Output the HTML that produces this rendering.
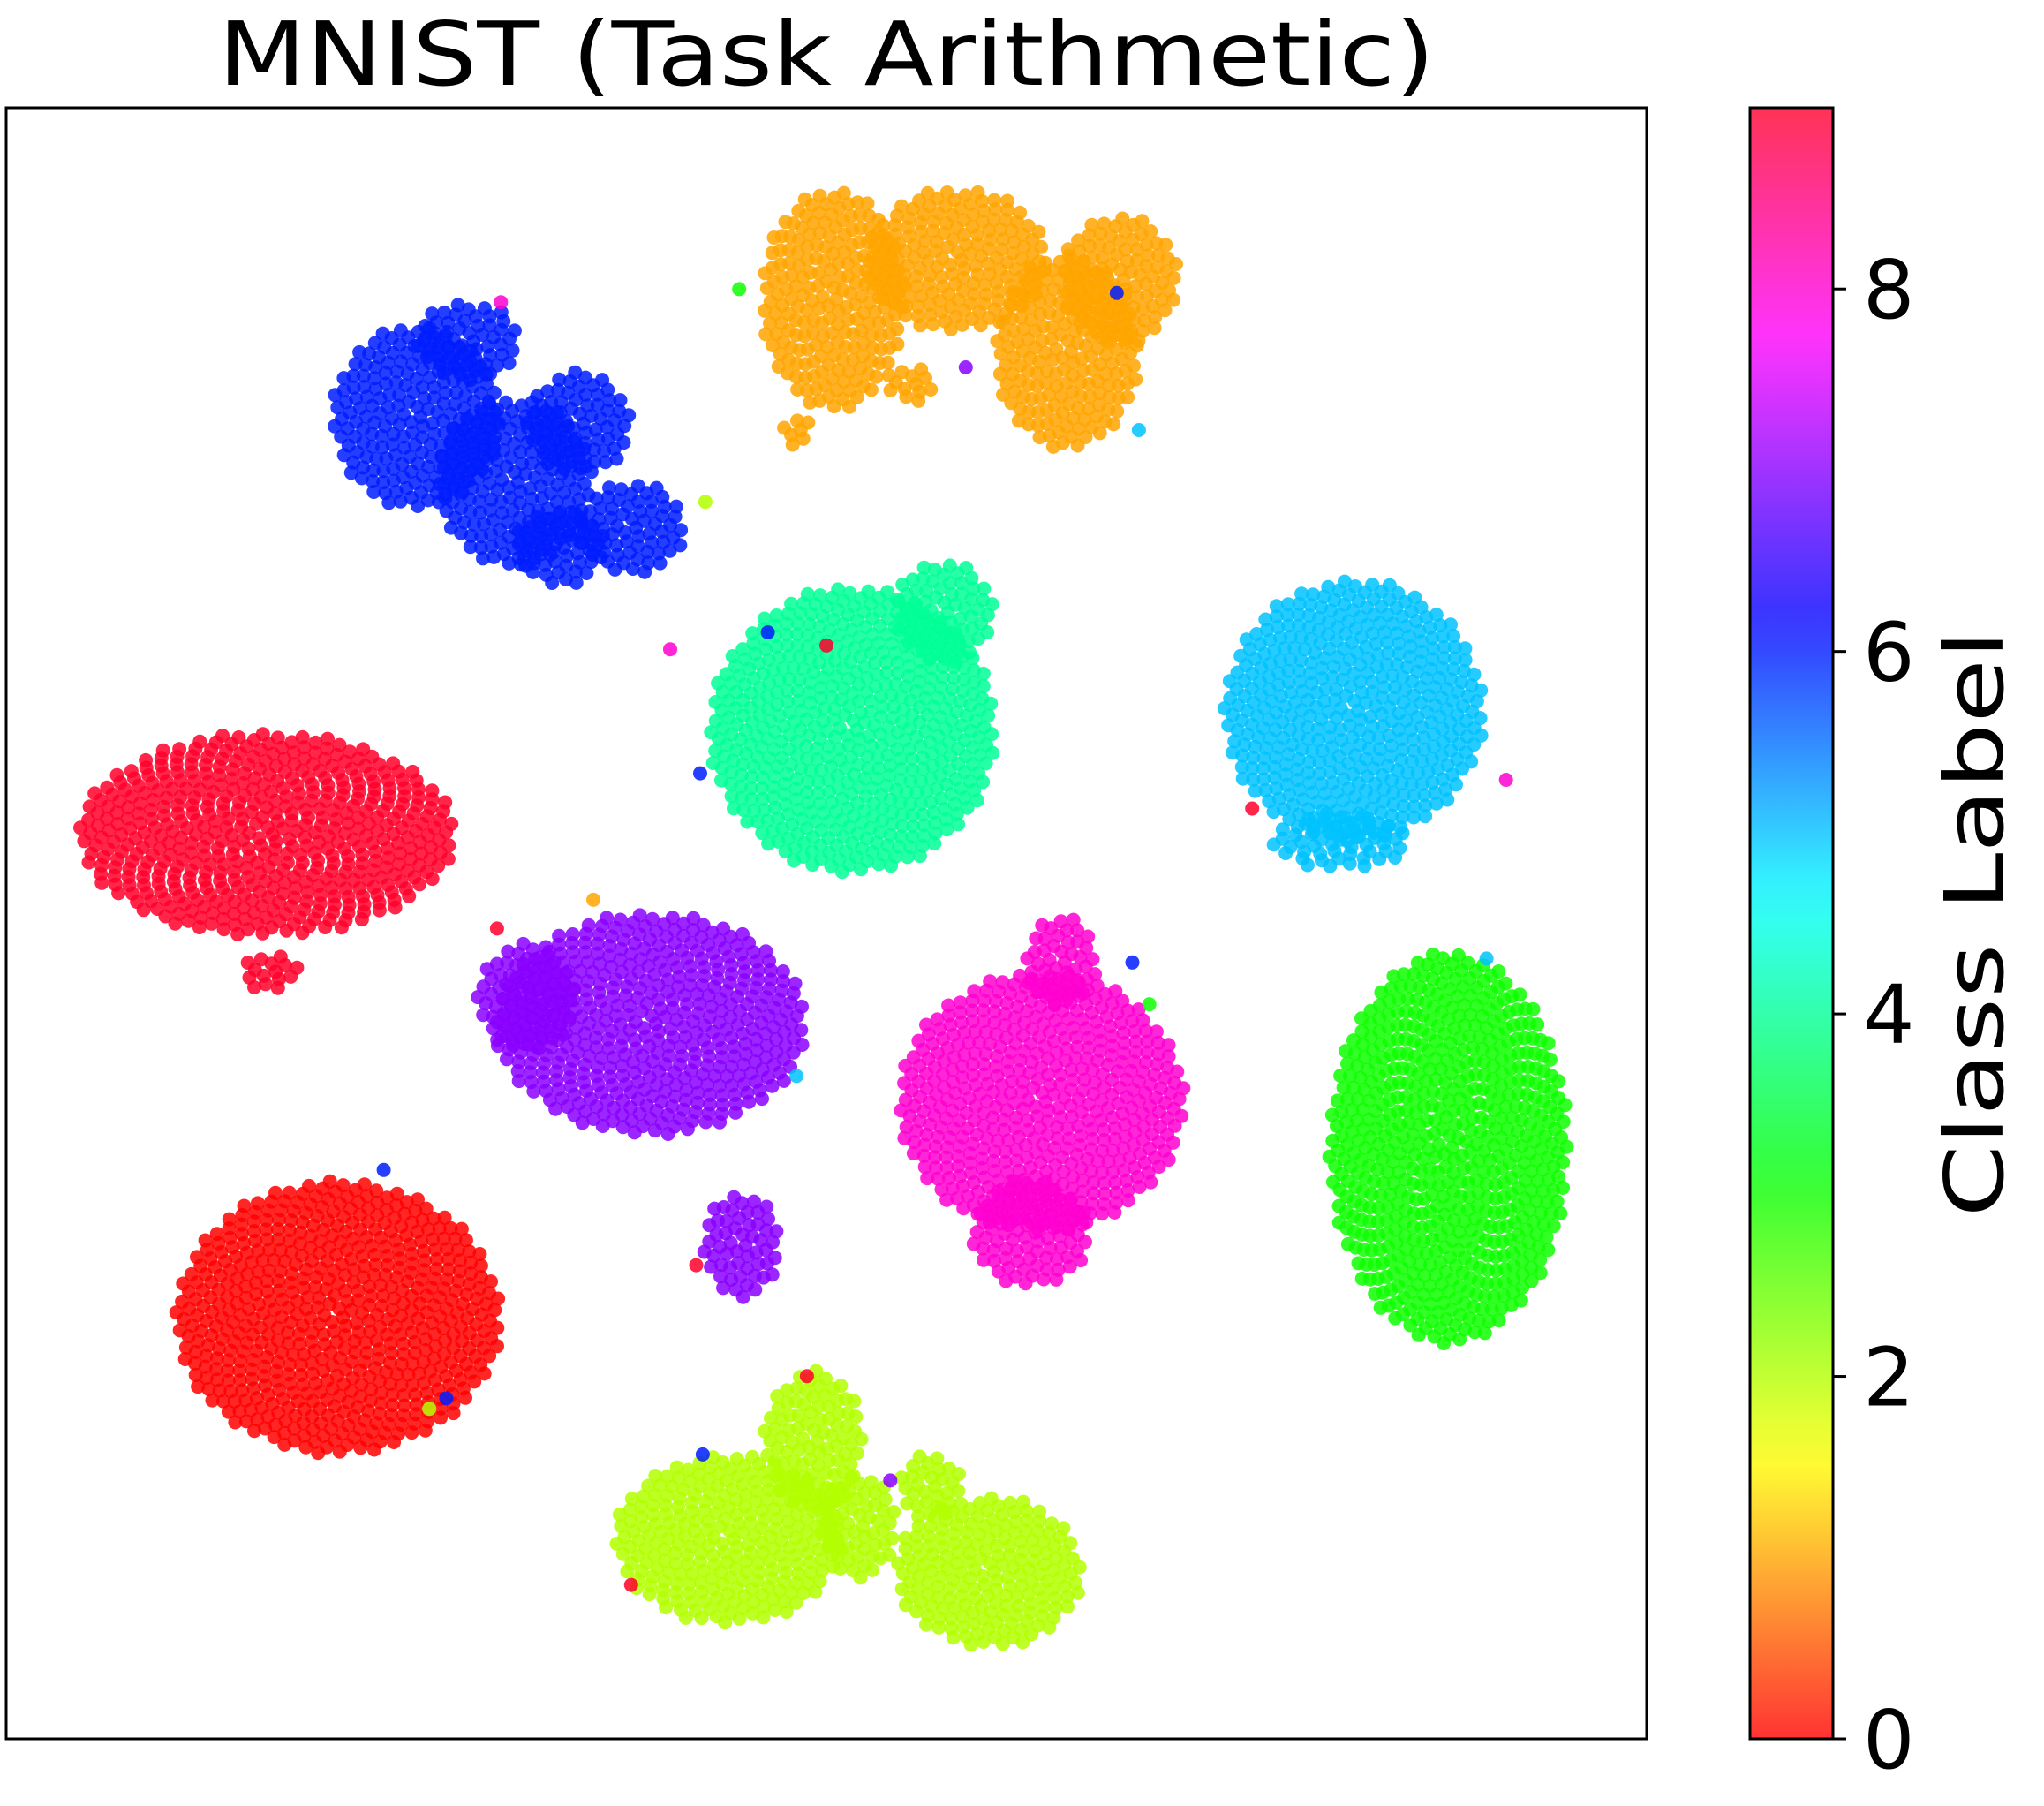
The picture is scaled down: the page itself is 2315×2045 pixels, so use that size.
<!DOCTYPE html>
<html><head><meta charset="utf-8"><style>
html,body{margin:0;padding:0;background:#fff;width:2315px;height:2045px;overflow:hidden}
svg{display:block;font-family:"DejaVu Sans","Liberation Sans",sans-serif}
</style></head><body>
<svg id="chart" width="2315" height="2045" viewBox="0 0 2315 2045" xmlns="http://www.w3.org/2000/svg">
<defs><linearGradient id="cbgrad" x1="0" y1="1" x2="0" y2="0"></linearGradient></defs>
<text x="936" y="96" font-size="100" text-anchor="middle" textLength="1378" lengthAdjust="spacingAndGlyphs">MNIST (Task Arithmetic)</text>
<g id="points"></g>
<rect x="7" y="122" width="1858" height="1847" fill="none" stroke="#000" stroke-width="3"/>
<rect x="1982" y="122" width="94" height="1847" fill="url(#cbgrad)" stroke="#000" stroke-width="3"/>
<g id="cbticks"></g>
<text transform="translate(2268,1046) rotate(-90)" font-size="92" text-anchor="middle" textLength="665" lengthAdjust="spacingAndGlyphs">Class Label</text>
</svg>
<script>
// Cluster blobs in display coordinates
const blobClass = [1,1,1,1,1,1, 6,6,6,6,6,6, 4,4, 5,5, 9,9, 7,7,7, 8,8,8, 3, 0, 2,2,2,2,2];
const blobCx = [640,735,820,860,612,700, 320,395,445,485,360,430, 655,725, 1040,1030, 205,208, 500,405,570, 800,815,792, 1113, 260, 560,625,760,715,660];
const blobCy = [230,200,270,215,330,295, 320,370,325,405,262,420, 560,470, 545,645, 640,745, 785,765,955, 845,738,945, 880, 1010, 1180,1105,1205,1140,1170];
const blobRx = [55,70,55,45,12,20, 65,60,40,42,40,35, 110,38, 100,52, 145,22, 120,38,30, 110,28,45, 92, 125, 88,38,72,25,30];
const blobRy = [85,55,75,50,12,14, 70,65,40,35,30,30, 110,40, 100,22, 78,15, 85,42,40, 100,35,42, 150, 105, 65,55,58,25,40];
// Stray points
const strayClass = [3,6,6,8,9,6,2,8,6,3,9,5,8,5,9,6,1,7,5,9,6,9,2,9,6,7];
const strayX = [568,858,590,515,635,538,542,385,295,883,485,875,1157,1142,962,870,456,742,612,382,343,535,330,620,540,684];
const strayY = [222,225,485,498,495,593,385,232,897,770,1215,330,598,735,620,738,690,282,825,712,1072,970,1080,1055,1115,1135];

const colorHue = c => c / 9 * 350;
const col = (c) => `hsl(${colorHue(c)},100%,50%)`;
const X0d=5, X1d=1265, Y0d=83, Y1d=1333;
const xS = v => 7 + (v - X0d) / (X1d - X0d) * 1858;
const yS = v => 122 + (v - Y0d) / (Y1d - Y0d) * 1847;
const NS='http://www.w3.org/2000/svg';
const g=document.getElementById('points');
function dot(c,x,y){
  const e=document.createElementNS(NS,'circle');
  
  
  e.setAttribute('cx',x.toFixed(1));e.setAttribute('cy',y.toFixed(1));
  e.setAttribute('r','8');e.setAttribute('fill',col(c));e.setAttribute('fill-opacity','0.85');
  g.appendChild(e);
}
const sx = 1858/(X1d-X0d), sy = 1847/(Y1d-Y0d);
for(let b=0;b<blobClass.length;b++){
  const rx=blobRx[b]*sx, ry=blobRy[b]*sy;
  const n=Math.max(3,Math.round(Math.PI*rx*ry/150));
  for(let i=0;i<n;i++){
    const r=Math.sqrt((i+0.5)/n), t=i*2.399963;
    dot(blobClass[b], xS(blobCx[b])+rx*r*Math.cos(t), yS(blobCy[b])+ry*r*Math.sin(t));
  }
}
for(let i=0;i<strayClass.length;i++) dot(strayClass[i], xS(strayX[i]), yS(strayY[i]));

// colorbar
const cbTicks=[0,2,4,6,8];
const cbMax=9;
const cbY = v => 1969 - v/cbMax*1847;
const grad=document.getElementById('cbgrad');
for(let k=0;k<=36;k++){
  const v=k/36*cbMax;
  const s=document.createElementNS(NS,'stop');
  s.setAttribute('offset',(k/36).toFixed(4));
  s.setAttribute('stop-color',`hsl(${colorHue(v)},100%,60%)`);
  grad.appendChild(s);
}
const tg=document.getElementById('cbticks');
cbTicks.forEach(t=>{
  const l=document.createElementNS(NS,'line');
  
  
  l.setAttribute('x1',2076);l.setAttribute('x2',2091);
  l.setAttribute('y1',cbY(t));l.setAttribute('y2',cbY(t));
  l.setAttribute('stroke','#000');l.setAttribute('stroke-width','3');
  tg.appendChild(l);
  const tx=document.createElementNS(NS,'text');
  
  
  tx.setAttribute('x',2110);tx.setAttribute('y',cbY(t)+33);
  tx.setAttribute('font-size','92');
  tx.textContent=String(t);
  tg.appendChild(tx);
});
</script>
</body></html>
